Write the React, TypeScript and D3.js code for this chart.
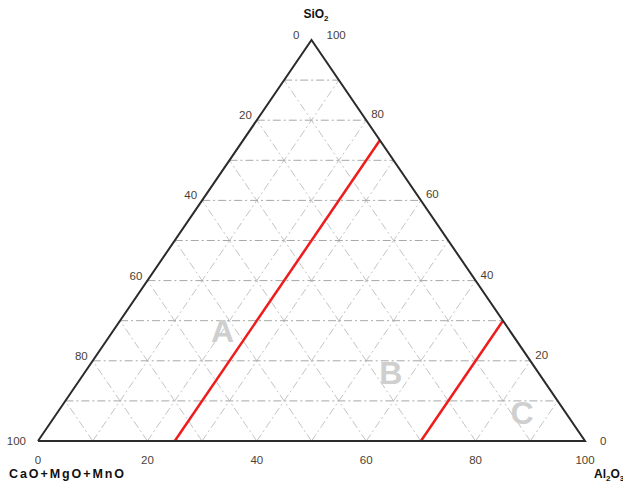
import React from 'react';
import * as d3 from 'd3';

// ternary axes: CaO+MgO+MnO (bottom-left), Al2O3 (bottom-right), SiO2 (top)
const gridSteps = [10, 20, 30, 40, 50, 60, 70, 80, 90];
const tickValues = [0, 20, 40, 60, 80, 100];
// red boundaries drawn at constant Al2O3
const boundaryAl = [25, 70];
const regionLabels = ['A', 'B', 'C'];
// label positions as [Al2O3, SiO2]
const regionPos = [[20, 27.5], [56, 17], [85, 7]];

const W = 623;
const H = 484;

const xScale = d3.scaleLinear().domain([0, 100]).range([38, 585]);
const yScale = d3.scaleLinear().domain([0, 100]).range([441, 40]);

// al = Al2O3 %, si = SiO2 %
const pt = (al: number, si: number): [number, number] => [xScale(al + si / 2), yScale(si)];

const App = () => {
  const line = d3.line();
  const tickColor = '#4a3f35';
  const font = 'Liberation Sans, Arial, sans-serif';

  const horiz = gridSteps.map(v => [pt(0, v), pt(100 - v, v)]);
  const constAl = gridSteps.map(v => [pt(v, 0), pt(v, 100 - v)]);
  const constCa = gridSteps.map(v => [pt(100 - v, 0), pt(0, 100 - v)]);

  const outline = [pt(0, 0), pt(100, 0), pt(0, 100), pt(0, 0)];

  return (
    <svg width={W} height={H} style={{ position: 'absolute', left: 0, top: 0 }}>
      <rect width={W} height={H} fill="#fff" />
      <g fill="none" strokeDasharray="8,3,2,3">
        {constAl.concat(constCa).map((d, i) => (
          <path key={'d' + i} d={line(d) || ''} stroke="#c4c4c4" strokeWidth={1} />
        ))}
        {horiz.map((d, i) => (
          <path key={'h' + i} d={line(d) || ''} stroke="#a8a8a8" strokeWidth={1} />
        ))}
      </g>
      {regionLabels.map((t, i) => {
        const [x, y] = pt(regionPos[i][0], regionPos[i][1]);
        return (
          <text key={t} x={x} y={y} textAnchor="middle" dominantBaseline="central"
            fontFamily={font} fontWeight="bold" fontSize={32} fill="#cfcfcf">{t}</text>
        );
      })}
      {boundaryAl.map(v => (
        <path key={'r' + v} d={line([pt(v, 0), pt(v, 100 - v)]) || ''} stroke="#ee1c1c" strokeWidth={2.5} fill="none" />
      ))}
      <path d={line(outline) || ''} fill="none" stroke="#2b2b2b" strokeWidth={2} strokeLinejoin="miter" />
      <g fontFamily={font} fontSize={11.5} fill={tickColor}>
        {tickValues.map(v => {
          const [x] = pt(v, 0);
          return <text key={'b' + v} x={x} y={464} textAnchor="middle">{v}</text>;
        })}
        {tickValues.map(v => {
          const [x, y] = pt(0, 100 - v);
          const dx = v === 0 || v === 100 ? -12 : -5;
          return <text key={'l' + v} x={x + dx} y={y + (v === 100 ? 4 : -1)} textAnchor="end">{v}</text>;
        })}
        {tickValues.map(v => {
          const [x, y] = pt(100 - v, v);
          const dx = v === 0 || v === 100 ? 15 : 5;
          return <text key={'rt' + v} x={x + dx} y={y + (v === 0 ? 4 : v === 100 ? -1 : -2)} textAnchor="start">{v}</text>;
        })}
      </g>
      <g fontFamily={font} fontSize={12} fontWeight="bold" fill="#111">
        <text x={316} y={18} textAnchor="middle">SiO<tspan fontSize={8} dy={3}>2</tspan></text>
        <text x={9} y={478} fontSize={12.5} textLength={115} lengthAdjust="spacing">CaO+MgO+MnO</text>
        <text x={594} y={478}>Al<tspan fontSize={8} dy={3}>2</tspan><tspan dy={-3}>O</tspan><tspan fontSize={8} dy={3}>3</tspan></text>
      </g>
    </svg>
  );
};

export default App;
